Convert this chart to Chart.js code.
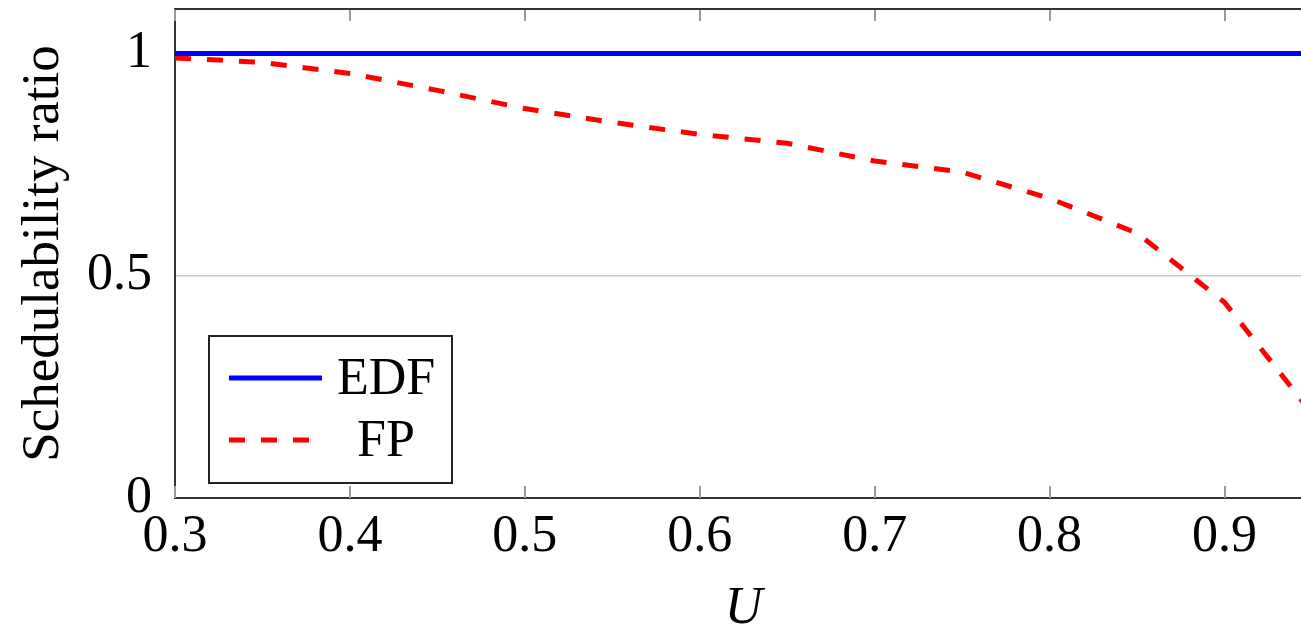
<!DOCTYPE html>
<html>
<head>
<meta charset="utf-8">
<script src="https://cdn.jsdelivr.net/npm/chart.js@4.4.1/dist/chart.umd.min.js"></script>
<style>
  html, body { margin: 0; padding: 0; background: #fff; overflow: hidden; width: 1301px; height: 637px; }
  #wrap { width: 1330px; height: 637px; }
</style>
</head>
<body>
<div id="wrap"><canvas id="c" width="1330" height="637"></canvas></div>
<script>
const uValues = [0.3, 0.35, 0.4, 0.45, 0.5, 0.55, 0.6, 0.65, 0.7, 0.75, 0.8, 0.85, 0.9, 0.95];
const edfRatio = [1, 1, 1, 1, 1, 1, 1, 1, 1, 1, 1, 1, 1, 1];
const fpRatio = [0.99, 0.98, 0.955, 0.917, 0.876, 0.845, 0.818, 0.798, 0.758, 0.733, 0.674, 0.596, 0.44, 0.19];
const xTicks = [0.3, 0.4, 0.5, 0.6, 0.7, 0.8, 0.9];
const yTicks = [0, 0.5, 1];
const seriesNames = ['EDF', 'FP'];

const serif = "'Liberation Serif', 'DejaVu Serif', serif";

const framePlugin = {
  id: 'frame',
  beforeDatasetsDraw(chart) {
    const {ctx, chartArea: a, scales: {x}} = chart;
    ctx.save();
    ctx.strokeStyle = '#9a9a9a';
    ctx.lineWidth = 2;
    xTicks.forEach(v => {
      const px = Math.round(x.getPixelForValue(v));
      ctx.beginPath();
      ctx.moveTo(px, a.top); ctx.lineTo(px, a.top + 12);
      ctx.moveTo(px, a.bottom); ctx.lineTo(px, a.bottom - 12);
      ctx.stroke();
    });
    ctx.strokeStyle = '#333';
    ctx.lineWidth = 2;
    ctx.beginPath();
    ctx.moveTo(a.left, a.top); ctx.lineTo(a.right, a.top);
    ctx.lineTo(a.right, a.bottom);
    ctx.stroke();
    ctx.restore();
  }
};

const legendPlugin = {
  id: 'innerLegend',
  afterDraw(chart) {
    const {ctx} = chart;
    const bx = 209, by = 336, bw = 243, bh = 147;
    ctx.save();
    ctx.fillStyle = '#fff';
    ctx.fillRect(bx, by, bw, bh);
    ctx.strokeStyle = '#222';
    ctx.lineWidth = 2;
    ctx.strokeRect(bx, by, bw, bh);
    const rows = [378, 440];
    chart.data.datasets.forEach((ds, i) => {
      const y = rows[i];
      ctx.strokeStyle = ds.borderColor;
      ctx.lineWidth = ds.borderWidth;
      ctx.setLineDash(ds.borderDash || []);
      ctx.beginPath();
      ctx.moveTo(229, y); ctx.lineTo(322, y);
      ctx.stroke();
      ctx.setLineDash([]);
      ctx.fillStyle = '#000';
      ctx.font = "52px " + serif;
      ctx.textAlign = 'center';
      ctx.textBaseline = 'middle';
      ctx.fillText(ds.label, 386, y + 2);
    });
    ctx.restore();
  }
};

new Chart(document.getElementById('c'), {
  type: 'line',
  data: {
    datasets: [
      {
        label: seriesNames[0],
        data: uValues.map((u, i) => ({x: u, y: edfRatio[i]})),
        borderColor: '#0000ff',
        borderWidth: 5,
        pointRadius: 0,
        fill: false,
        tension: 0
      },
      {
        label: seriesNames[1],
        data: uValues.map((u, i) => ({x: u, y: fpRatio[i]})),
        borderColor: '#ff0000',
        borderWidth: 5,
        borderDash: [16, 16],
        pointRadius: 0,
        fill: false,
        tension: 0
      }
    ]
  },
  options: {
    responsive: false,
    animation: false,
    devicePixelRatio: 1,
    layout: { padding: { top: 9, right: 18, left: 0, bottom: 0 } },
    plugins: { legend: { display: false }, tooltip: { enabled: false } },
    scales: {
      x: {
        type: 'linear',
        min: 0.3,
        max: 0.95,
        afterBuildTicks: s => { s.ticks = xTicks.map(v => ({value: v})); },
        afterFit: s => { s.height = 139; s.paddingLeft = 0; s.paddingRight = 0; },
        grid: { display: true, drawOnChartArea: false, drawTicks: false },
        border: { display: true, color: '#333', width: 2 },
        ticks: {
          padding: 8,
          color: '#000',
          font: { family: serif, size: 52 },
          maxRotation: 0,
          autoSkip: false,
          callback: v => String(v)
        },
        title: {
          display: true,
          text: 'U',
          color: '#000',
          font: { family: serif, size: 52, style: 'italic', lineHeight: 1 },
          padding: { top: 0, bottom: 2 }
        }
      },
      y: {
        type: 'linear',
        min: 0,
        max: 1.1,
        afterBuildTicks: s => { s.ticks = yTicks.map(v => ({value: v})); },
        afterFit: s => { s.width = 175; s.paddingTop = 0; s.paddingBottom = 0; },
        grid: { display: true, color: '#c8c8c8', lineWidth: 1.5, drawTicks: false },
        border: { display: true, color: '#333', width: 2 },
        ticks: {
          padding: 23,
          color: '#000',
          font: { family: serif, size: 52 },
          callback: v => String(v)
        },
        title: {
          display: true,
          text: 'Schedulability ratio',
          color: '#000',
          font: { family: serif, size: 53, lineHeight: 1 },
          padding: { top: 18, bottom: 0 }
        }
      }
    }
  },
  plugins: [framePlugin, legendPlugin]
});
</script>
</body>
</html>
